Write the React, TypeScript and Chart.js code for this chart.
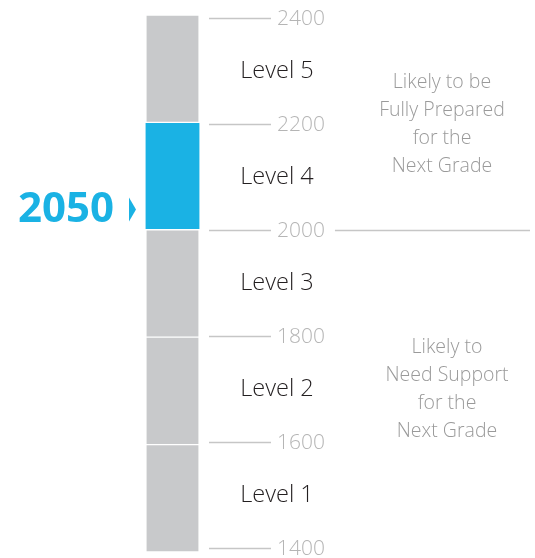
import React, { useEffect, useRef } from "react";
import { Chart, registerables } from "chart.js";

Chart.register(...registerables);

const levelNames = ["Level 1", "Level 2", "Level 3", "Level 4", "Level 5"];
const levelLows = [1400, 1600, 1800, 2000, 2200];
const levelHighs = [1600, 1800, 2000, 2200, 2400];
const tickValues = [1400, 1600, 1800, 2000, 2200, 2400];
const studentScore = 2050;
const cutScore = 2000;
const annotationTexts = [
  ["Likely to be", "Fully Prepared", "for the", "Next Grade"],
  ["Likely to", "Need Support", "for the", "Next Grade"],
];
const annotationCenters = [2200, 1700];

const BLUE = "#1ab2e4";
const GREY = "#c8c9cb";

export default function App() {
  const ref = useRef<HTMLCanvasElement>(null);

  useEffect(() => {
    const canvas = ref.current!;
    const overlay = {
      id: "overlay",
      afterDatasetsDraw(chart: any) {
        const ctx = chart.ctx as CanvasRenderingContext2D;
        const y = chart.scales.y;
        ctx.save();
        // ticks
        ctx.textBaseline = "middle";
        ctx.textAlign = "left";
        ctx.font = "300 21px 'Open Sans'";
        tickValues.forEach((v) => {
          const py = Math.round(y.getPixelForValue(v)) + 0.5;
          ctx.strokeStyle = "#c6c6c6";
          ctx.lineWidth = 1.5;
          ctx.beginPath();
          ctx.moveTo(209, py);
          ctx.lineTo(271, py);
          ctx.stroke();
          ctx.fillStyle = "#b5b5b5";
          const label = String(v);
          ctx.fillText(label, 277, py + 1);
          if (v === cutScore) {
            const w = ctx.measureText(label).width;
            ctx.beginPath();
            ctx.moveTo(277 + w + 10, py);
            ctx.lineTo(530, py);
            ctx.stroke();
          }
        });
        // level names
        ctx.textAlign = "center";
        ctx.font = "300 23.5px 'Open Sans'";
        ctx.fillStyle = "#231f20";
        levelNames.forEach((n, i) => {
          const py = y.getPixelForValue((levelLows[i] + levelHighs[i]) / 2);
          ctx.fillText(n, 277, py);
        });
        // annotations
        ctx.font = "300 19.5px 'Open Sans'";
        ctx.fillStyle = "#9a9a9a";
        annotationTexts.forEach((lines, k) => {
          const cy = y.getPixelForValue(annotationCenters[k]);
          const cx = k === 0 ? 442 : 447;
          lines.forEach((t, j) => {
            ctx.fillText(t, cx, cy + (j - (lines.length - 1) / 2) * 28);
          });
        });
        // score marker
        const sy = y.getPixelForValue(studentScore) + 6;
        ctx.fillStyle = BLUE;
        ctx.textAlign = "right";
        ctx.font = "700 42px 'Open Sans'";
        ctx.fillText(String(studentScore), 114, sy + 1);
        ctx.beginPath();
        ctx.moveTo(129, sy - 12);
        ctx.lineTo(136, sy);
        ctx.lineTo(129, sy + 12);
        ctx.closePath();
        ctx.fill();
        ctx.restore();
      },
    };

    const datasets = levelNames.map((n, i) => {
      const isScore = studentScore >= levelLows[i] && studentScore < levelHighs[i];
      return {
        label: n,
        data: [[levelLows[i], levelHighs[i]]],
        yAxisID: "yBar",
        clip: false,
        backgroundColor: isScore ? BLUE : GREY,
        borderColor: "#ffffff",
        borderWidth: { top: 1, bottom: 1, left: 0, right: 0 },
        borderSkipped: false,
        barThickness: isScore ? 54 : 52,
      };
    });

    const chart = new Chart(canvas, {
      type: "bar",
      data: { labels: ["Score"], datasets: datasets as any },
      options: {
        responsive: false,
        animation: false,
        grouped: false,
        layout: { padding: { top: 18, bottom: 10, left: 0, right: 190 } },
        plugins: { legend: { display: false }, tooltip: { enabled: false } },
        scales: {
          x: { display: false },
          y: { display: false, min: 1400, max: 2400 },
          yBar: { display: false, min: 1407.4, max: 2394.4 },
        },
      } as any,
      plugins: [overlay],
    });
    return () => chart.destroy();
  }, []);

  return (
    <div style={{ position: "absolute", left: 0, top: 0, width: 535, height: 558, background: "#fff" }}>
      <canvas ref={ref} width={535} height={558} style={{ display: "block" }} />
    </div>
  );
}
